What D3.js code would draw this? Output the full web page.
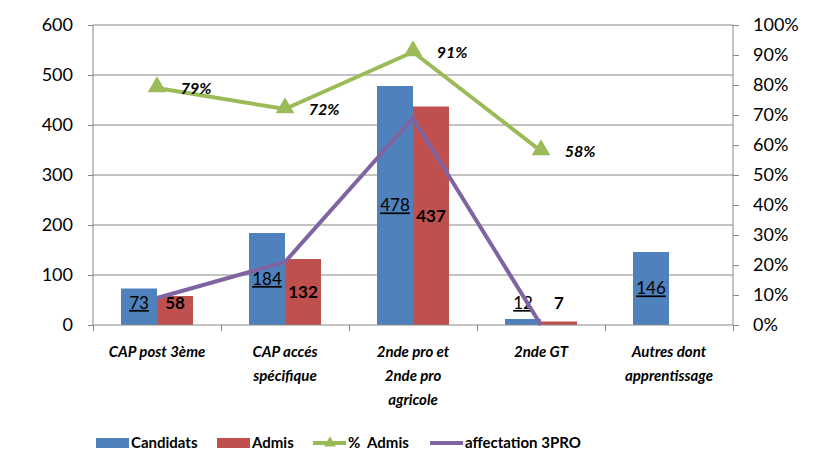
<!DOCTYPE html>
<html>
<head>
<meta charset="utf-8">
<script src="https://cdn.jsdelivr.net/npm/d3@7"></script>
<style>
  body { margin: 0; background: #fff; }
  svg { font-family: Lato, "Open Sans", sans-serif; }
  .axis path, .axis line { stroke: #868686; }
  .axis text { font-size: 18px; fill: #000; font-family: Lato, sans-serif; }
</style>
</head>
<body>
<svg width="837" height="453"></svg>
<script>
var categories = [
  ["CAP post 3ème"],
  ["CAP accés", "spécifique"],
  ["2nde pro et", "2nde pro", "agricole"],
  ["2nde GT"],
  ["Autres dont", "apprentissage"]
];
var candidats = [73, 184, 478, 12, 146];
var admis = [58, 132, 437, 7, null];
var pctAdmis = [0.79, 0.72, 0.91, 0.58, null];
var affectation = [0.09, 0.21, 0.69, 0, null];
var leftTicks = [0, 100, 200, 300, 400, 500, 600];
var rightTicks = [0, 0.1, 0.2, 0.3, 0.4, 0.5, 0.6, 0.7, 0.8, 0.9, 1];

var svg = d3.select("svg");
var plotLeft = 93, plotRight = 733, plotTop = 25, plotBottom = 325;

var colors = { candidats: "#4F81BD", admis: "#C0504D", pct: "#9BBB59", aff: "#8064A2" };

var x0 = d3.scaleBand().domain(d3.range(categories.length)).range([plotLeft, plotRight]);
var x1 = d3.scaleBand().domain(["candidats", "admis"]).range([0, 72]);
var barOffset = (x0.bandwidth() - 72) / 2;
var y = d3.scaleLinear().domain([0, 600]).range([plotBottom, plotTop]);
var y2 = d3.scaleLinear().domain([0, 1]).range([plotBottom, plotTop]);
var xc = function(i) { return x0(i) + x0.bandwidth() / 2; };

// gridlines
svg.append("g")
  .selectAll("line")
  .data(leftTicks.slice(1))
  .enter()
  .append("line")
  .attr("x1", plotLeft).attr("x2", plotRight)
  .attr("y1", function(d) { return y(d); })
  .attr("y2", function(d) { return y(d); })
  .attr("stroke", "#868686");

// bars
var series = [
  { key: "candidats", values: candidats },
  { key: "admis", values: admis }
];
series.forEach(function(s) {
  svg.append("g")
    .selectAll("rect")
    .data(s.values.map(function(v, i) { return { v: v, i: i }; }).filter(function(d) { return d.v != null; }))
    .enter()
    .append("rect")
    .attr("x", function(d) { return x0(d.i) + barOffset + x1(s.key); })
    .attr("width", x1.bandwidth())
    .attr("y", function(d) { return y(d.v); })
    .attr("height", function(d) { return plotBottom - y(d.v); })
    .attr("fill", colors[s.key]);
});

// axes
svg.append("g")
  .attr("class", "axis")
  .attr("transform", "translate(" + plotLeft + ",0)")
  .call(d3.axisLeft(y).tickValues(leftTicks).tickSize(5).tickPadding(15))
  .select(".domain").attr("d", "M0," + plotTop + "V" + plotBottom);

svg.append("g")
  .attr("class", "axis")
  .attr("transform", "translate(" + plotRight + ",0)")
  .call(d3.axisRight(y2).tickValues(rightTicks).tickSize(6).tickPadding(14).tickFormat(d3.format(".0%")))
  .select(".domain").attr("d", "M0," + plotTop + "V" + plotBottom);

var xb = d3.scaleLinear().domain([0, categories.length]).range([plotLeft, plotRight]);
svg.append("g")
  .attr("class", "axis")
  .attr("transform", "translate(0," + plotBottom + ")")
  .call(d3.axisBottom(xb).tickValues(d3.range(categories.length + 1)).tickSize(6).tickFormat(""))
  .select(".domain").attr("d", "M" + plotLeft + ",0H" + plotRight);

// category labels
var catG = svg.append("g")
  .selectAll("text")
  .data(categories)
  .enter()
  .append("text")
  .attr("text-anchor", "middle")
  .attr("font-size", 15)
  .attr("font-weight", "bold")
  .attr("font-style", "italic")
  .attr("x", function(d, i) { return xc(i); })
  .attr("y", 357);
catG.selectAll("tspan")
  .data(function(d, i) { return d.map(function(t) { return { t: t, i: i }; }); })
  .enter()
  .append("tspan")
  .attr("x", function(d) { return xc(d.i); })
  .attr("dy", function(d, j) { return j === 0 ? 0 : 24; })
  .text(function(d) { return d.t; });

// bar value labels
function labelY(v) {
  return v < 100 ? plotBottom - 22 : (y(v) + plotBottom) / 2;
}
svg.append("g")
  .selectAll("text")
  .data(candidats)
  .enter()
  .append("text")
  .attr("x", function(d, i) { return x0(i) + barOffset + x1("candidats") + x1.bandwidth() / 2; })
  .attr("y", function(d) { return labelY(d); })
  .attr("dy", "0.35em")
  .attr("text-anchor", "middle")
  .attr("font-size", 17)
  .attr("text-decoration", "underline")
  .text(function(d) { return d; });

svg.append("g")
  .selectAll("text")
  .data(admis.filter(function(d) { return d != null; }))
  .enter()
  .append("text")
  .attr("x", function(d, i) { return x0(i) + barOffset + x1("admis") + x1.bandwidth() / 2; })
  .attr("y", function(d) { return labelY(d); })
  .attr("dy", "0.35em")
  .attr("text-anchor", "middle")
  .attr("font-size", 17)
  .attr("font-weight", "bold")
  .text(function(d) { return d; });

// lines
function lineData(arr) {
  return arr.map(function(v, i) { return { v: v, i: i }; }).filter(function(d) { return d.v != null; });
}
var line = d3.line()
  .x(function(d) { return xc(d.i); })
  .y(function(d) { return y2(d.v); });

svg.append("path")
  .datum(lineData(affectation))
  .attr("d", line)
  .attr("fill", "none")
  .attr("stroke", colors.aff)
  .attr("stroke-width", 4)
  .attr("stroke-linejoin", "round");

svg.append("path")
  .datum(lineData(pctAdmis))
  .attr("d", line)
  .attr("fill", "none")
  .attr("stroke", colors.pct)
  .attr("stroke-width", 4)
  .attr("stroke-linejoin", "round");

var tri = d3.symbol().type(d3.symbolTriangle).size(150);
svg.append("g")
  .selectAll("path")
  .data(lineData(pctAdmis))
  .enter()
  .append("path")
  .attr("d", tri)
  .attr("transform", function(d) { return "translate(" + xc(d.i) + "," + (y2(d.v) - 1) + ")"; })
  .attr("fill", colors.pct);

svg.append("g")
  .selectAll("text")
  .data(lineData(pctAdmis))
  .enter()
  .append("text")
  .attr("x", function(d) { return xc(d.i) + 39; })
  .attr("y", function(d) { return y2(d.v); })
  .attr("dy", "0.35em")
  .attr("text-anchor", "middle")
  .attr("font-size", 16)
  .attr("font-weight", "bold")
  .attr("font-style", "italic")
  .text(function(d) { return d3.format(".0%")(d.v); });

// legend
var legend = [
  { name: "Candidats", type: "rect", color: colors.candidats, x: 96 },
  { name: "Admis", type: "rect", color: colors.admis, x: 217 },
  { name: "%  Admis", type: "tri", color: colors.pct, x: 313 },
  { name: "affectation 3PRO", type: "line", color: colors.aff, x: 430 }
];
var lg = svg.append("g")
  .selectAll("g")
  .data(legend)
  .enter()
  .append("g")
  .attr("transform", function(d) { return "translate(" + d.x + ",443)"; });
lg.filter(function(d) { return d.type === "rect"; })
  .append("rect")
  .attr("x", 0).attr("y", -5).attr("width", 33).attr("height", 10)
  .attr("fill", function(d) { return d.color; });
lg.filter(function(d) { return d.type !== "rect"; })
  .append("line")
  .attr("x1", 0).attr("x2", 33).attr("y1", 0).attr("y2", 0)
  .attr("stroke", function(d) { return d.color; })
  .attr("stroke-width", 4);
lg.filter(function(d) { return d.type === "tri"; })
  .append("path")
  .attr("d", d3.symbol().type(d3.symbolTriangle).size(60))
  .attr("transform", "translate(17,0)")
  .attr("fill", function(d) { return d.color; });
lg.append("text")
  .attr("x", 35)
  .attr("dy", "0.35em")
  .attr("font-size", 15)
  .attr("font-weight", "bold")
  .style("white-space", "pre")
  .text(function(d) { return d.name; });
</script>
</body>
</html>
